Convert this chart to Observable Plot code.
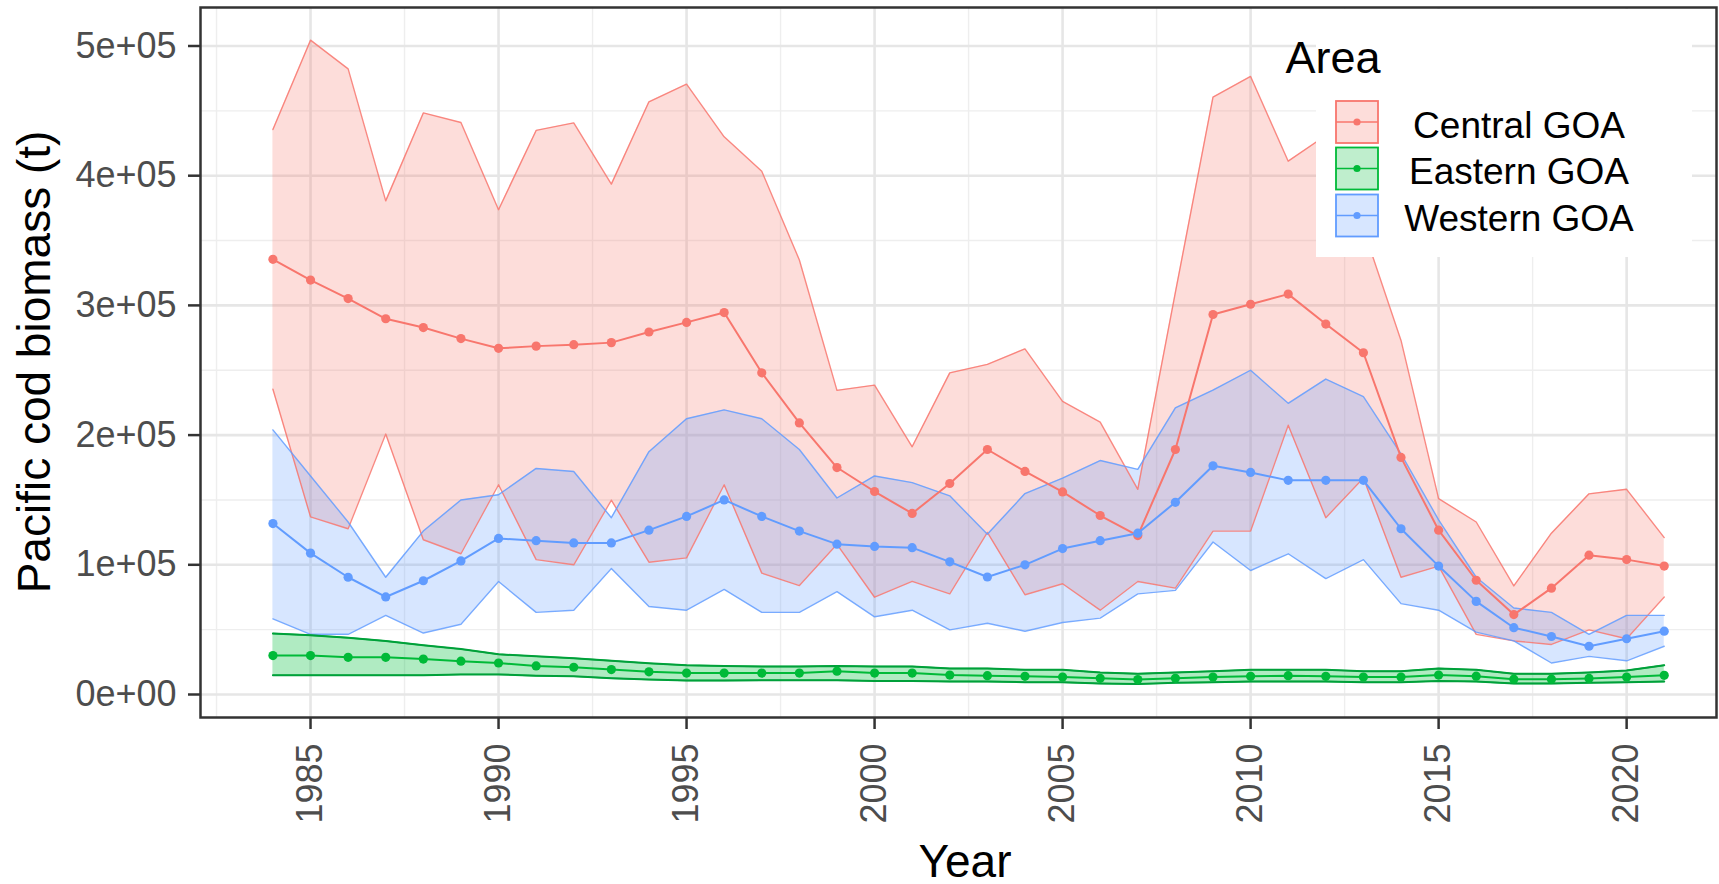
<!DOCTYPE html>
<html><head><meta charset="utf-8">
<script src="https://cdn.jsdelivr.net/npm/d3@7"></script>
<script src="https://cdn.jsdelivr.net/npm/@observablehq/plot@0.6"></script>
<style>
html,body{margin:0;padding:0;background:#fff;}
#chart{width:1719px;height:884px;}
</style></head><body><div id="chart"></div>
<script>
const years = [1984,1985,1986,1987,1988,1989,1990,1991,1992,1993,1994,1995,1996,1997,1998,1999,2000,2001,2002,2003,2004,2005,2006,2007,2008,2009,2010,2011,2012,2013,2014,2015,2016,2017,2018,2019,2020,2021];
const areas = ["Central GOA", "Eastern GOA", "Western GOA"];
const areaColors = ["#F8766D", "#00BA38", "#619CFF"];

const centralMean = [335500,319500,305300,289700,282900,274400,266900,268600,269700,271300,279500,286900,294500,248000,209400,175000,156500,139600,162700,188900,172000,156200,138000,122500,188900,293000,300900,308700,285600,263500,182800,126700,88100,61600,82000,107400,104000,99000];
const centralLower = [235400,137000,127800,200800,119300,108500,161700,104000,100000,149800,102000,105300,161700,93600,84000,115800,75000,87200,77600,125000,76900,85400,65000,87100,82000,126000,126000,207600,136300,167000,90400,99000,46400,41300,38600,49800,43000,75200];
const centralUpper = [435600,504500,482400,380600,448400,441000,373800,434900,440700,393500,457000,470600,430000,403500,335000,234500,238500,191000,248000,254500,266500,226000,210000,158200,310000,460500,476500,411200,431000,359000,273000,151000,133000,83700,124400,154700,158200,121000];

const easternMean = [30000,30000,28700,28700,27300,25700,24300,22000,21000,19200,17500,16500,16500,16500,16500,18000,16500,16500,15000,14500,14000,13500,12500,11500,12500,13500,14000,14500,14000,13500,13500,15000,14100,11800,11800,12400,13500,14800];
const easternLower = [14800,14800,14800,14800,14800,15500,15500,14500,14000,12500,11500,10800,10800,11000,11000,11000,10500,10500,10000,10000,9500,9500,8500,8000,9000,9500,10000,10000,10000,9500,9500,10500,10000,8500,8500,9000,9500,10000];
const easternUpper = [47000,45700,43700,41300,38000,35000,31000,29400,28000,26000,24000,22500,22000,21600,21600,22000,21600,21600,20000,20000,19000,19000,17000,16000,17000,18000,19000,19000,19000,18000,18000,20000,19000,16000,16000,17000,18500,22600];

const westernMean = [131800,109000,90400,75200,87700,103000,120300,118600,116900,116900,126700,137300,150000,137300,126000,115900,114200,113200,102300,90600,100000,112500,118600,124400,148200,176300,171200,165100,165100,165100,127800,99000,71800,51500,44700,37200,43000,48800];
const westernLower = [58300,46400,46400,61000,47400,54200,87100,63300,65000,97200,67800,65000,81000,63300,63300,79300,59900,65000,49800,54900,48800,55500,58900,77600,80300,117600,95600,108500,89400,104000,70100,65000,48100,41300,24300,29400,26000,37200];
const westernUpper = [204000,168500,133000,90400,126000,150000,154000,174300,171900,136300,187200,212600,219400,212600,188900,151500,168500,163400,153200,123500,154900,166800,180400,173600,221000,234700,250000,224500,243200,229600,185500,134600,90400,66700,63300,46400,61000,61000];

const yTicks = [0, 100000, 200000, 300000, 400000, 500000];
const yTickLabels = ["0e+00", "1e+05", "2e+05", "3e+05", "4e+05", "5e+05"];
const yMinor = [50000, 150000, 250000, 350000, 450000];
const xTicks = [1985, 1990, 1995, 2000, 2005, 2010, 2015, 2020];
const xTickLabels = ["1985", "1990", "1995", "2000", "2005", "2010", "2015", "2020"];
const xMinor = [1982.5, 1987.5, 1992.5, 1997.5, 2002.5, 2007.5, 2012.5, 2017.5];

function rows(area, mean, lower, upper) {
  return years.map((year, i) => ({area, year, mean: mean[i], lower: lower[i], upper: upper[i]}));
}
const data = [
  ...rows("Central GOA", centralMean, centralLower, centralUpper),
  ...rows("Eastern GOA", easternMean, easternLower, easternUpper),
  ...rows("Western GOA", westernMean, westernLower, westernUpper)
];
const eastern = data.filter(d => d.area === "Eastern GOA");

const plot = Plot.plot({
  width: 1719, height: 884,
  marginLeft: 200, marginRight: 3, marginTop: 7, marginBottom: 167,
  style: {fontFamily: "'Liberation Sans', Arial, sans-serif", background: "#fff", overflow: "visible"},
  x: {domain: [1982.074, 2022.39], axis: null},
  y: {domain: [-17733, 529684], axis: null},
  color: {domain: areas, range: areaColors},
  marks: [
    Plot.gridY(yMinor, {stroke: "#EEEEEE", strokeOpacity: 1, strokeWidth: 1.4}),
    Plot.gridX(xMinor, {stroke: "#EEEEEE", strokeOpacity: 1, strokeWidth: 1.4}),
    Plot.gridY(yTicks, {stroke: "#E6E6E6", strokeOpacity: 1, strokeWidth: 2.6}),
    Plot.gridX(xTicks, {stroke: "#E6E6E6", strokeOpacity: 1, strokeWidth: 2.6}),
    Plot.areaY(data, {x: "year", y1: "lower", y2: "upper", z: "area", fill: "area", fillOpacity: 0.25}),
    Plot.areaY(eastern, {x: "year", y1: "lower", y2: "upper", fill: "#00D050", fillOpacity: 0.08}),
    Plot.lineY(data, {x: "year", y: "lower", z: "area", stroke: "area", strokeWidth: 1.4, strokeOpacity: 0.85}),
    Plot.lineY(data, {x: "year", y: "upper", z: "area", stroke: "area", strokeWidth: 1.4, strokeOpacity: 0.85}),
    Plot.lineY(eastern, {x: "year", y: "lower", stroke: "#00A03A", strokeWidth: 2}),
    Plot.lineY(eastern, {x: "year", y: "upper", stroke: "#00A03A", strokeWidth: 2}),
    Plot.lineY(data, {x: "year", y: "mean", z: "area", stroke: "area", strokeWidth: 2}),
    Plot.dot(data, {x: "year", y: "mean", fill: "area", r: 4.6}),
    Plot.axisY(yTicks, {anchor: "left", tickSize: 12, tickPadding: 12, fontSize: 36, fill: "#4D4D4D", stroke: "#333333", strokeWidth: 2.5, label: null, tickFormat: d => yTickLabels[yTicks.indexOf(d)]}),
    Plot.axisX(xTicks, {anchor: "bottom", tickRotate: -90, tickSize: 12, tickPadding: 14, fontSize: 36, fill: "#4D4D4D", stroke: "#333333", strokeWidth: 2.5, label: null, tickFormat: d => xTickLabels[xTicks.indexOf(d)]}),
    Plot.frame({stroke: "#333333", strokeWidth: 2.5})
  ]
});

const svg = d3.select(plot);
const font = "'Liberation Sans', Arial, sans-serif";
svg.append("text")
  .attr("transform", "translate(34,362) rotate(-90)")
  .attr("text-anchor", "middle").attr("dominant-baseline", "central")
  .attr("font-family", font).attr("font-size", 46).attr("fill", "#000")
  .text("Pacific cod biomass (t)");
svg.append("text")
  .attr("x", 965).attr("y", 877)
  .attr("text-anchor", "middle")
  .attr("font-family", font).attr("font-size", 46).attr("fill", "#000")
  .text("Year");

// legend
const lg = svg.append("g");
lg.append("rect").attr("x", 1316).attr("y", 9).attr("width", 376).attr("height", 248).attr("fill", "#fff");
lg.append("text").attr("x", 1333).attr("y", 73).attr("font-family", font).attr("font-size", 45).attr("fill", "#000").text("Area");
const keyTops = [101, 147.5, 194.5];
areas.forEach((a, i) => {
  const c = areaColors[i];
  const y0 = keyTops[i];
  lg.append("rect").attr("x", 1336).attr("y", y0).attr("width", 42).attr("height", 42)
    .attr("fill", c).attr("fill-opacity", 0.25).attr("stroke", c).attr("stroke-width", 1.8);
  lg.append("line").attr("x1", 1336).attr("x2", 1378).attr("y1", y0 + 21).attr("y2", y0 + 21)
    .attr("stroke", c).attr("stroke-width", 1.6);
  lg.append("circle").attr("cx", 1357).attr("cy", y0 + 21).attr("r", 3.6).attr("fill", c);
  lg.append("text").attr("x", 1519).attr("y", y0 + 24)
    .attr("text-anchor", "middle").attr("dominant-baseline", "central")
    .attr("font-family", font).attr("font-size", 37).attr("fill", "#000").text(a);
});

document.getElementById("chart").appendChild(plot);
</script>
</body></html>
